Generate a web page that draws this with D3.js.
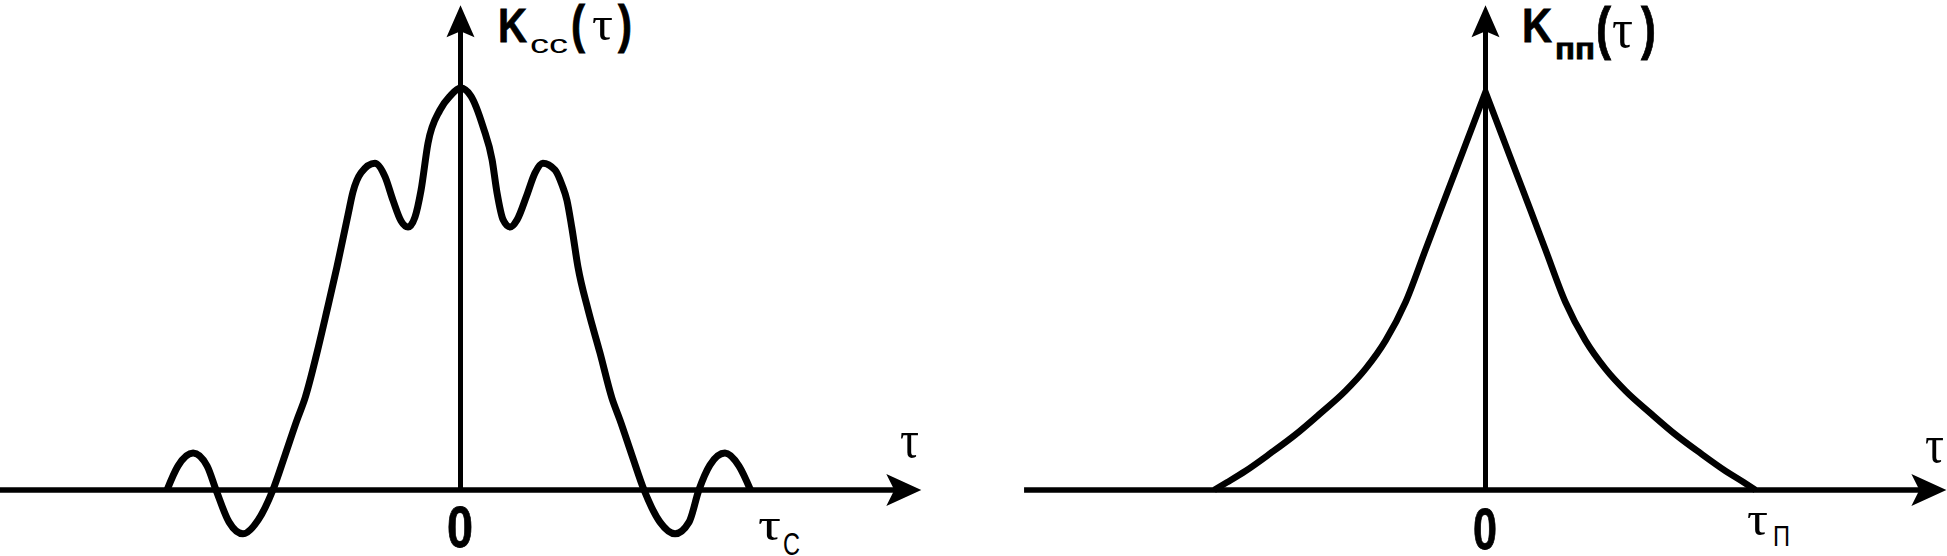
<!DOCTYPE html>
<html>
<head>
<meta charset="utf-8">
<script src="https://cdn.jsdelivr.net/npm/d3@7"></script>
<style>
  html, body { margin: 0; padding: 0; background: #fff; }
  svg { display: block; }
</style>
</head>
<body>
<svg id="chart" width="1947" height="556"></svg>
<script>
// ---------------- DATA ----------------
// Left panel: autocorrelation of signal K_cc(τ), τ in units of τ_c, K normalised
const sigTau = [-1.012, -0.974, -0.922, -0.874, -0.843, -0.798, -0.750, -0.698, -0.647, -0.605,
  -0.564, -0.536, -0.495, -0.460, -0.426, -0.388, -0.371, -0.343, -0.295, -0.260,
  -0.233, -0.205, -0.181, -0.157, -0.136, -0.112, -0.071, -0.036, 0,
  0.036, 0.078, 0.109, 0.126, 0.147, 0.171, 0.195, 0.229, 0.257, 0.284,
  0.326, 0.350, 0.367, 0.384, 0.405, 0.440, 0.481, 0.522, 0.550, 0.591, 0.633,
  0.688, 0.740, 0.788, 0.822, 0.860, 0.912, 0.960, 1.0];
const sigK = [0, 0.060, 0.092, 0.060, 0, -0.080, -0.109, -0.075, 0, 0.087,
  0.174, 0.229, 0.341, 0.448, 0.555, 0.684, 0.741, 0.789, 0.813, 0.779,
  0.721, 0.669, 0.654, 0.679, 0.746, 0.863, 0.945, 0.980, 1.0,
  0.980, 0.903, 0.821, 0.739, 0.672, 0.654, 0.672, 0.734, 0.789, 0.813,
  0.796, 0.759, 0.721, 0.652, 0.555, 0.448, 0.341, 0.229, 0.174, 0.087, 0,
  -0.080, -0.109, -0.080, 0, 0.062, 0.092, 0.060, 0];

// Right panel: autocorrelation of noise K_пп(τ), τ in units of τ_п
const noiseTauLeft = [-1.005, -0.957, -0.889, -0.796, -0.704, -0.611, -0.519, -0.444, -0.370, -0.296, -0.222, -0.167, -0.111, -0.074, -0.037, 0];
const noiseKLeft   = [0, 0.019, 0.047, 0.091, 0.137, 0.19, 0.245, 0.30, 0.37, 0.465, 0.595, 0.692, 0.79, 0.855, 0.92, 0.985];
const noiseTauRight = [0, 0.037, 0.074, 0.111, 0.167, 0.222, 0.296, 0.370, 0.444, 0.519, 0.611, 0.704, 0.796, 0.889, 0.956, 1.0];
const noiseKRight   = [0.985, 0.92, 0.855, 0.79, 0.692, 0.595, 0.465, 0.37, 0.30, 0.245, 0.19, 0.137, 0.091, 0.047, 0.019, 0];

// Texts
const zeroLabel = "0";
const axisLabel = "τ";
const leftTitle = ["K", "сс", "(", "τ", ")"];
const rightTitle = ["K", "пп", "(", "τ", ")"];
const leftEndLabel = ["τ", "С"];
const rightEndLabel = ["τ", "П"];

// ---------------- LAYOUT ----------------
const svg = d3.select("#chart");
const SANS = "Liberation Sans, Arial, sans-serif";
const SERIF = "Liberation Serif, DejaVu Serif, serif";

const xL = d3.scaleLinear().domain([-1, 1]).range([460.5 - 290, 460.5 + 290]);
const yL = d3.scaleLinear().domain([0, 1]).range([490, 490 - 402]);
const xR = d3.scaleLinear().domain([-1, 1]).range([1485.5 - 270, 1485.5 + 270]);
const yR = d3.scaleLinear().domain([0, 1]).range([490, 490 - 404]);

const leftAxisExt = { xMin: -1.588, xMax: 1.589, yMax: 1.206 };
const rightAxisExt = { xMin: -1.709, xMax: 1.707, yMax: 1.2 };

function drawAxes(xs, ys, ext) {
  const y0 = ys(0), x0 = xs(0);
  const tipX = xs(ext.xMax), tipY = ys(ext.yMax);
  svg.append("line")
    .attr("x1", xs(ext.xMin)).attr("x2", tipX - 26)
    .attr("y1", y0).attr("y2", y0)
    .attr("stroke", "#000").attr("stroke-width", 5.5);
  svg.append("path")
    .attr("d", `M${tipX},${y0} L${tipX - 35},${y0 - 16} L${tipX - 27},${y0} L${tipX - 35},${y0 + 16} Z`)
    .attr("fill", "#000");
  svg.append("line")
    .attr("x1", x0).attr("x2", x0)
    .attr("y1", y0).attr("y2", tipY + 24)
    .attr("stroke", "#000").attr("stroke-width", 5);
  svg.append("path")
    .attr("d", `M${x0},${tipY} L${x0 - 14},${tipY + 32} L${x0},${tipY + 26} L${x0 + 14},${tipY + 32} Z`)
    .attr("fill", "#000");
}

drawAxes(xL, yL, leftAxisExt);
drawAxes(xR, yR, rightAxisExt);

// Left curve
const sigPts = sigTau.map((t, i) => [t, sigK[i]]);
const lineL = d3.line().x(d => xL(d[0])).y(d => yL(d[1])).curve(d3.curveMonotoneX);
svg.append("path")
  .attr("d", lineL(sigPts))
  .attr("fill", "none").attr("stroke", "#000")
  .attr("stroke-width", 7).attr("stroke-linejoin", "round").attr("stroke-linecap", "butt");

// Right curve: two branches meeting in a cusp
const lineR = d3.line().x(d => xR(d[0])).y(d => yR(d[1])).curve(d3.curveMonotoneX);
const leftBranch = lineR(noiseTauLeft.map((t, i) => [t, noiseKLeft[i]]));
const rightBranch = lineR(noiseTauRight.map((t, i) => [t, noiseKRight[i]])).replace(/^M[^A-Za-z]*/, "");
svg.append("path")
  .attr("d", leftBranch + rightBranch)
  .attr("fill", "none").attr("stroke", "#000")
  .attr("stroke-width", 6.5).attr("stroke-linejoin", "miter").attr("stroke-miterlimit", 20)
  .attr("stroke-linecap", "butt");

// ---------------- TEXT ----------------
function txt(s, x, y, size, opts = {}) {
  const t = svg.append("text")
    .attr("x", x).attr("y", y)
    .attr("font-family", opts.serif ? SERIF : SANS)
    .attr("font-size", size)
    .attr("font-weight", opts.bold ? "bold" : "normal")
    .attr("fill", "#000")
    .text(s);
  if (opts.bold) t.attr("stroke", "#000").attr("stroke-width", 0.8);
  if (opts.len) t.attr("textLength", opts.len).attr("lengthAdjust", "spacingAndGlyphs");
  return t;
}

txt(leftTitle[0], 498, 42, 48, { bold: true, len: 29 });
txt(leftTitle[1], 530, 53, 26, { len: 38 });
txt(leftTitle[2], 571, 42, 52, { bold: true, len: 14 });
txt(leftTitle[3], 592, 40, 48, { serif: true, len: 21 });
txt(leftTitle[4], 618, 42, 52, { bold: true, len: 14 });

txt(rightTitle[0], 1522, 42, 48, { bold: true, len: 30 });
txt(rightTitle[1], 1555, 59, 30, { bold: true, len: 40 });
txt(rightTitle[2], 1596, 48, 58, { bold: true, len: 15 });
txt(rightTitle[3], 1612, 47, 54, { serif: true, len: 21 });
txt(rightTitle[4], 1641, 48, 58, { bold: true, len: 15 });

txt(axisLabel, 900, 457, 52, { serif: true, len: 19 });
txt(axisLabel, 1925, 462, 52, { serif: true, len: 19 });

txt(zeroLabel, xL(0) - 13.5, 547, 57, { bold: true, len: 26 });
txt(zeroLabel, xR(0) - 12.5, 549, 57, { bold: true, len: 24 });

txt(leftEndLabel[0], 758, 540, 46, { serif: true, len: 23 });
txt(leftEndLabel[1], 783, 555, 32, { len: 17 });
txt(rightEndLabel[0], 1747, 535, 48, { serif: true, len: 21 });
txt(rightEndLabel[1], 1773, 546, 29, { len: 17 });
</script>
</body>
</html>
